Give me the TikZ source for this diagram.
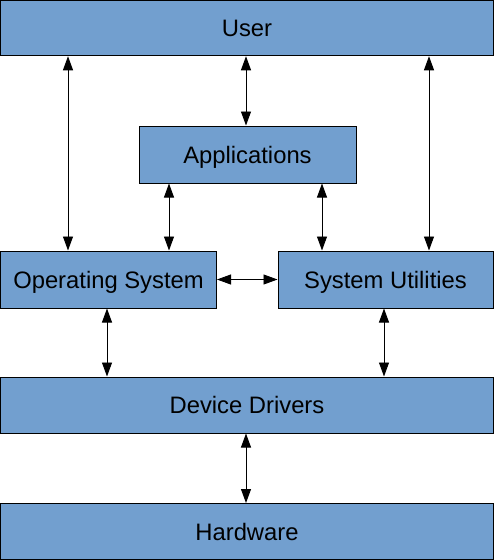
\documentclass[tikz,border=0pt]{standalone}
\usepackage{fontspec}
\setmainfont{Liberation Sans}
\usetikzlibrary{arrows.meta}
\definecolor{boxblue}{HTML}{729FCF}
\tikzset{
  blk/.style={draw=black, line width=1pt, fill=boxblue, inner sep=0pt, text height=17pt, text depth=0pt, font=\fontsize{23.8}{28}\selectfont},
  conn/.style={line width=0.9pt, {Triangle[length=14pt,width=10pt]}-{Triangle[length=14pt,width=10pt]}}
}
\begin{document}
\begin{tikzpicture}[x=1pt,y=-1pt]
\useasboundingbox (0,0) rectangle (494,560);
\node[blk, minimum width=492.5pt, minimum height=55.5pt] (user) at (247,28) {User};
\node[blk, minimum width=217pt, minimum height=57pt] (apps) at (247.5,154.5) {Applications};
\node[blk, minimum width=216pt, minimum height=57pt] (os) at (108.5,279.5) {Operating System};
\node[blk, minimum width=215pt, minimum height=57pt] (su) at (385.5,279.5) {System Utilities};
\node[blk, minimum width=492.5pt, minimum height=56pt] (dd) at (247,405) {Device Drivers};
\node[blk, minimum width=492.5pt, minimum height=56pt] (hw) at (247,531.5) {Hardware};
\draw[conn] (user.south -| 68,0) -- (os.north -| 68,0);
\draw[conn] (user.south -| 246,0) -- (apps.north -| 246,0);
\draw[conn] (user.south -| 429,0) -- (su.north -| 429,0);
\draw[conn] (apps.south -| 169,0) -- (os.north -| 169,0);
\draw[conn] (apps.south -| 322,0) -- (su.north -| 322,0);
\draw[conn] (os.east) -- (su.west);
\draw[conn] (os.south -| 107,0) -- (dd.north -| 107,0);
\draw[conn] (su.south -| 384,0) -- (dd.north -| 384,0);
\draw[conn] (dd.south -| 246,0) -- (hw.north -| 246,0);
\end{tikzpicture}
\end{document}
